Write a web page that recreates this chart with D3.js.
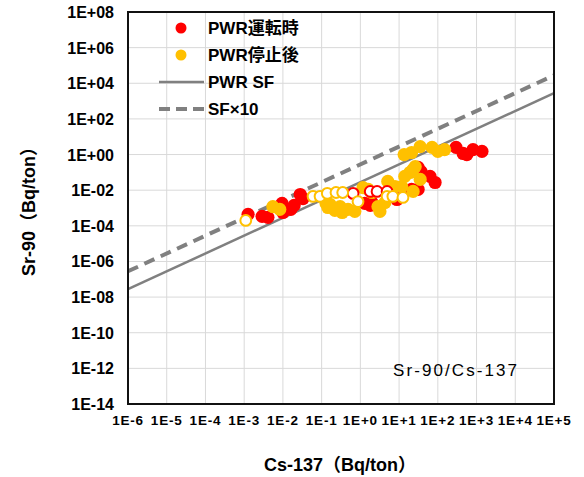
<!DOCTYPE html>
<html>
<head>
<meta charset="utf-8">
<script src="https://cdn.jsdelivr.net/npm/d3@7"></script>
<style>
  body { margin: 0; background: #fff; }
  text { font-family: "Liberation Sans", Arial, "Noto Sans CJK JP", sans-serif; }
</style>
</head>
<body>
<svg id="chart"></svg>
<script>
// PWR operating (red filled), [Cs-137, Sr-90]
var redFilled = [
  [1.26e-3, 4.4e-4], [2.9e-3, 3.4e-4], [4.1e-3, 3.0e-4], [9.5e-3, 1.8e-3], [1.0e-2, 5.6e-4],
  [1.6e-2, 8.3e-4], [1.95e-2, 1.4e-3], [2.8e-2, 5.7e-3], [3.3e-2, 3.4e-3], [1.3, 1.8e-3],
  [2.0, 2.0e-3], [1.8, 1.4e-3], [8.8, 3.0e-3], [14, 8.5e-3], [21, 1.1e-2], [31, 0.19],
  [37, 0.11], [63, 0.059], [85, 0.027], [31, 0.011], [6.9, 4.5e-3],
  [295, 2.5], [450, 1.15], [560, 1.0], [810, 1.9], [1380, 1.5]
];
// PWR after shutdown (orange filled)
var orangeFilled = [
  [5.5e-3, 1.2e-3], [8.3e-3, 8.3e-4], [0.145, 1.07e-3], [0.22, 7.3e-4], [0.34, 5.6e-4],
  [0.48, 8.3e-4], [0.72, 6.4e-4], [0.165, 1.6e-3], [0.30, 1.2e-3], [0.13, 1.8e-3],
  [1.17, 1.4e-2], [1.6, 1.1e-2], [2.0, 7.4e-3], [2.85, 1.2e-3], [4.3, 2.0e-3], [3.2, 6.4e-4],
  [5.1, 3.1e-2], [7.8, 1.6e-2], [11.7, 1.6e-2], [14, 5.9e-2], [19, 9.8e-2], [23, 0.145],
  [26, 0.21], [23, 8.5e-3], [35, 0.04],
  [13.5, 1.0], [21, 1.3], [35, 2.8], [71, 2.5], [100, 1.5], [150, 1.9]
];
// hollow markers
var redHollow = [[0.65, 6.6e-3], [1.8, 8.5e-3], [2.7, 8.5e-3], [4.9, 8.5e-3]];
var orangeHollow = [
  [1.1e-3, 2.0e-4], [0.060, 4.5e-3], [0.091, 4.5e-3], [0.14, 6.6e-3], [0.235, 7.4e-3],
  [0.35, 7.4e-3], [0.87, 2.3e-3], [4.9, 4.5e-3], [6.9, 4.5e-3], [12.6, 3.9e-3]
];
// scaling factors (Sr-90 = SF * Cs-137)
var sfPWR = 0.028;
var sfTen = sfPWR * 10;

var xTicks = [1e-6, 1e-5, 1e-4, 1e-3, 1e-2, 1e-1, 1, 1e1, 1e2, 1e3, 1e4, 1e5];
var xTickLabels = ["1E-6", "1E-5", "1E-4", "1E-3", "1E-2", "1E-1", "1E+0", "1E+1", "1E+2", "1E+3", "1E+4", "1E+5"];
var yTicks = [1e8, 1e6, 1e4, 1e2, 1, 1e-2, 1e-4, 1e-6, 1e-8, 1e-10, 1e-12, 1e-14];
var yTickLabels = ["1E+08", "1E+06", "1E+04", "1E+02", "1E+00", "1E-02", "1E-04", "1E-06", "1E-08", "1E-10", "1E-12", "1E-14"];

var width = 584, height = 477;
var margin = {left: 128, right: 30, top: 12, bottom: 73};
var svg = d3.select("#chart").attr("width", width).attr("height", height);

var x = d3.scaleLog().domain([1e-6, 1e5]).range([margin.left, width - margin.right]);
var y = d3.scaleLog().domain([1e-14, 1e8]).range([height - margin.bottom, margin.top]);

svg.append("clipPath").attr("id", "plotClip")
  .append("rect")
  .attr("x", x(1e-6)).attr("y", y(1e8))
  .attr("width", x(1e5) - x(1e-6)).attr("height", y(1e-14) - y(1e8));

// grid
var xDecades = d3.range(-6, 6).map(function (e) { return Math.pow(10, e); });
svg.append("g").selectAll("line").data(xDecades).enter().append("line")
  .attr("x1", function (d) { return x(d); }).attr("x2", function (d) { return x(d); })
  .attr("y1", y(1e8)).attr("y2", y(1e-14))
  .attr("stroke", "#d9d9d9").attr("stroke-width", 1);
svg.append("g").selectAll("line").data(yTicks).enter().append("line")
  .attr("x1", x(1e-6)).attr("x2", x(1e5))
  .attr("y1", function (d) { return y(d); }).attr("y2", function (d) { return y(d); })
  .attr("stroke", "#d9d9d9").attr("stroke-width", 1);

// SF lines
var lineGen = d3.line().x(function (d) { return x(d[0]); }).y(function (d) { return y(d[1]); });
var plot = svg.append("g").attr("clip-path", "url(#plotClip)");
plot.append("path")
  .attr("d", lineGen([[1e-6, 1e-6 * sfPWR], [1e5, 1e5 * sfPWR]]))
  .attr("stroke", "#808080").attr("stroke-width", 2.5).attr("fill", "none");
plot.append("path")
  .attr("d", lineGen([[1e-6, 1e-6 * sfTen], [1e5, 1e5 * sfTen]]))
  .attr("stroke", "#808080").attr("stroke-width", 4).attr("fill", "none")
  .attr("stroke-dasharray", "11,7");

// markers
var drawDots = function (data, fill, stroke, r, sw) {
  plot.append("g").selectAll("circle").data(data).enter().append("circle")
    .attr("cx", function (d) { return x(d[0]); })
    .attr("cy", function (d) { return y(d[1]); })
    .attr("r", r)
    .attr("fill", fill)
    .attr("stroke", stroke)
    .attr("stroke-width", sw);
};
drawDots(redFilled, "#ff0000", "none", 6.6, 0);
drawDots(orangeFilled, "#ffc000", "none", 6.6, 0);
drawDots(redHollow, "#ffffff", "#ff0000", 5.4, 2);
drawDots(orangeHollow, "#ffffff", "#ffc000", 5.4, 2);

// frame
svg.append("rect")
  .attr("x", x(1e-6)).attr("y", y(1e8))
  .attr("width", x(1e5) - x(1e-6)).attr("height", y(1e-14) - y(1e8))
  .attr("fill", "none").attr("stroke", "#111").attr("stroke-width", 2);

// tick labels
svg.append("g").selectAll("text").data(xTicks).enter().append("text")
  .attr("x", function (d) { return x(d); })
  .attr("y", 425)
  .attr("text-anchor", "middle")
  .attr("font-size", 13.5).attr("font-weight", "bold")
  .attr("letter-spacing", 0.8)
  .text(function (d, i) { return xTickLabels[i]; });
svg.append("g").selectAll("text").data(yTicks).enter().append("text")
  .attr("x", 114)
  .attr("y", function (d) { return y(d) + 6; })
  .attr("text-anchor", "end")
  .attr("font-size", 16).attr("font-weight", "bold")
  .text(function (d, i) { return yTickLabels[i]; });

// axis titles
svg.append("text")
  .attr("x", 340).attr("y", 471)
  .attr("text-anchor", "middle")
  .attr("font-size", 18).attr("font-weight", "bold")
  .text("Cs-137（Bq/ton）");
svg.append("text")
  .attr("transform", "translate(35,207) rotate(-90)")
  .attr("text-anchor", "middle")
  .attr("font-size", 18).attr("font-weight", "bold")
  .text("Sr-90（Bq/ton）");

// ratio note
svg.append("text")
  .attr("x", 393).attr("y", 376)
  .attr("font-size", 17)
  .attr("textLength", 124).attr("lengthAdjust", "spacing")
  .text("Sr-90/Cs-137");

// legend
var legend = svg.append("g");
var legendRows = [
  {label: "PWR運転時", type: "dot", color: "#ff0000", y: 28},
  {label: "PWR停止後", type: "dot", color: "#ffc000", y: 55},
  {label: "PWR SF", type: "line", color: "#808080", y: 82},
  {label: "SF×10", type: "dash", color: "#808080", y: 109}
];
legendRows.forEach(function (row) {
  if (row.type == "dot") {
    legend.append("circle").attr("cx", 181).attr("cy", row.y).attr("r", 5.5).attr("fill", row.color);
  } else {
    legend.append("line")
      .attr("x1", 159).attr("x2", 204).attr("y1", row.y).attr("y2", row.y)
      .attr("stroke", row.color)
      .attr("stroke-width", row.type == "dash" ? 4 : 2.5)
      .attr("stroke-dasharray", row.type == "dash" ? "11,6" : null);
  }
  legend.append("text")
    .attr("x", 208).attr("y", row.y + 6)
    .attr("font-size", 17).attr("font-weight", "bold")
    .text(row.label);
});
</script>
</body>
</html>
